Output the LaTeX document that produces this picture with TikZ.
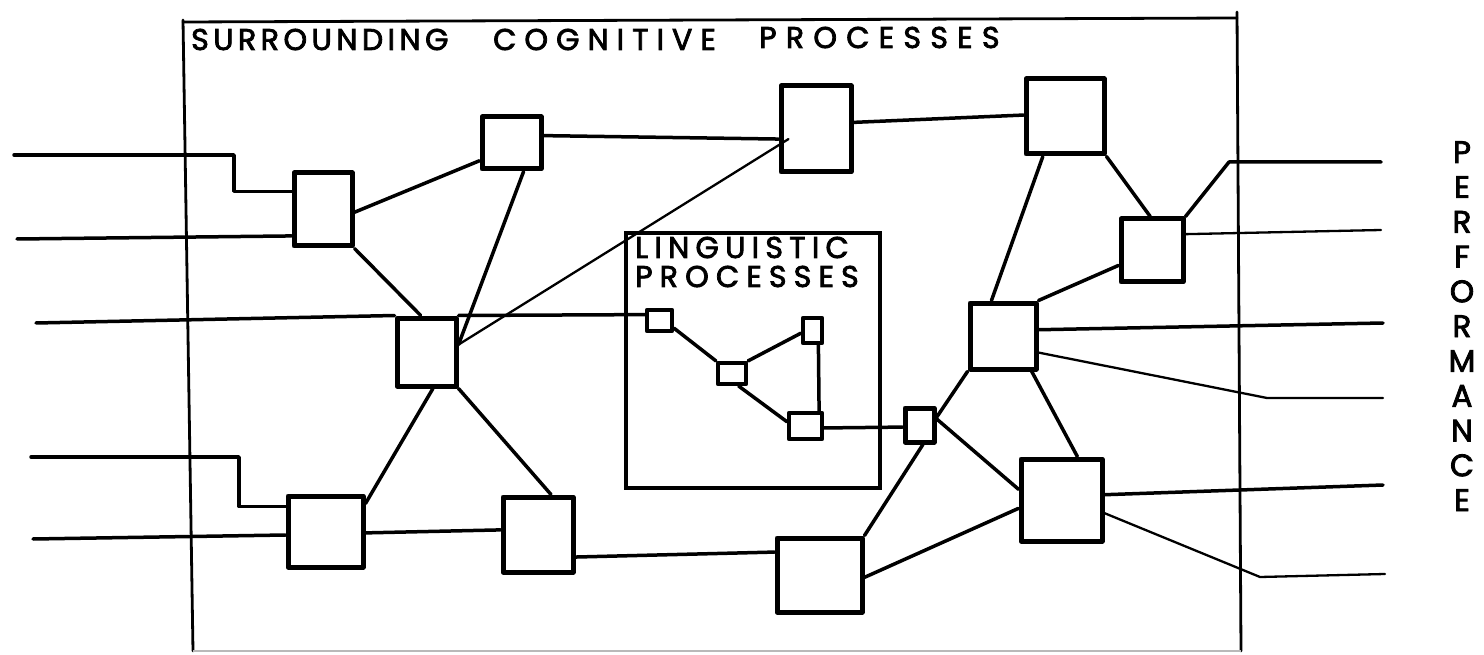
\documentclass[tikz,border=0pt]{standalone}
\usepackage{fontspec}
\newfontfamily\hand[FakeBold=2.6]{Poppins}
\usetikzlibrary{calc}

% a process box given by its centre and its size (in px)
\newcommand\procbox[6][]{\node[proc,#1, minimum width=#5pt, minimum height=#6pt] (#2) at (#3,#4) {};}
% hand lettering with a given tracking
\newcommand\spaced[2]{{\addfontfeature{LetterSpace=#1}#2}}

\begin{document}
\begin{tikzpicture}[x=1pt,y=-1pt,
  proc/.style={draw, line width=5pt, inner sep=0pt, line join=round},
  tiny/.style={line width=4.2pt},
  link/.style={line width=3.5pt, line cap=round, line join=round},
  fine link/.style={line width=2.3pt, line cap=round, line join=round},
  frame/.style={line width=2.8pt, line cap=round, line join=round},
  lettering/.style={font=\hand\fontsize{30}{32}\selectfont, inner sep=0pt},
  bigletter/.style={font=\hand\fontsize{31}{32}\selectfont, inner sep=0pt}
]
\useasboundingbox (0,0) rectangle (1484,655);

% outer frame: surrounding cognitive processes
\draw[frame] (183,20) -- (193,651);
\draw[frame] (183,22) -- (1237,18);
\draw[frame] (1237,12) -- (1241,651);
\draw[gray!55, line width=1.4pt] (193,651) -- (1241,651);
\node[lettering, anchor=base west] (t1) at (191,50) {\spaced{15}{SURROUNDING}};
\node[lettering, anchor=base west] (t2) at (493,50) {\spaced{27}{COGNITIVE}};
\node[lettering, anchor=base west] (t3) at (759,48) {\spaced{31}{PROCESSES}};

% inner frame: linguistic processes
\node[draw, line width=3.2pt, inner sep=0pt, minimum width=254pt, minimum height=255pt] (ling) at (753,360.5) {};
\node[lettering, anchor=base west] (lt1) at (635,258) {\spaced{21}{LINGUISTIC}};
\node[lettering, anchor=base west] (lt2) at (635,287) {\spaced{24}{PROCESSES}};

% vertical label on the right
\foreach \ch [count=\i] in {P,E,R,F,O,R,M,A,N,C,E}
  \node[bigletter, anchor=base] (perf\i) at (1462,{163+34.8*(\i-1)}) {\ch};

% process boxes
\procbox{A}{323}{209.5}{58}{73}
\procbox{B}{511.5}{143}{59}{52}
\procbox{C}{816}{129}{70}{86}
\procbox{D}{1065}{116.5}{78}{75}
\procbox{E}{426.5}{352}{59}{68}
\procbox{F}{325.5}{531.5}{75}{71}
\procbox{G}{538}{534.5}{70}{75}
\procbox{H}{819.5}{575}{85}{74}
\procbox{I}{1003}{336}{66}{66}
\procbox{J}{1061.5}{500}{81}{82}
\procbox{K}{919.5}{425}{29}{34}
\procbox{M}{1152}{250.5}{62}{63}
\procbox[tiny]{L1}{659.5}{320.5}{25}{21}
\procbox[tiny]{L2}{732}{373.5}{28}{21}
\procbox[tiny]{L3}{812.5}{330.5}{19}{25}
\procbox[tiny]{L4}{805.5}{426}{33}{26}

% free ends of the input and output lines
\coordinate (in1) at (14,155);
\coordinate (in2) at (17,239);
\coordinate (in3) at (36,323);
\coordinate (in4) at (31,457);
\coordinate (in5) at (33,539);
\coordinate (o1) at (1229,162);
\coordinate (o4) at (1267,398);
\coordinate (o6) at (1260,577);
\coordinate (out1) at (1381,162);
\coordinate (out2) at (1381,230);
\coordinate (out3) at (1383,323);
\coordinate (out4) at (1383,398);
\coordinate (out5) at (1383,485);
\coordinate (out6) at (1385,574);

% inputs
\draw[link] (in1) -- ++(220,0) |- (A.150);
\draw[link] (in2) -- (A.220);
\draw[link] (in3) -- (E.north west);
\draw[link] (E.north east) -- (L1.158);
\draw[link] (in4) -- ++(208,0) |- (F.148);
\draw[link] (in5) -- (F.185);

% left network
\draw[link] (A.-5) -- (B.209);
\draw[link] (A.south east) -- (E.99);
\draw[link] (B.-67) -- (E.13);
\draw[link] (B.13) -- (C.195);
\draw[fine link] (E.13) -- ([xshift=10pt]C.195);
\draw[link] (E.-80) -- (F.35);
\draw[link] (E.south east) -- (G.72);
\draw[link] (F.-2) -- (G.173);
\draw[link] (G.-31) -- (H.153);

% linguistic network
\draw[link] (L1.-28) -- (L2.north west);
\draw[link] (L2.north east) -- (L3.193);
\draw[link] (L2.-62) -- (L4.167);
\draw[link] (L3.-68) -- (L4.48);
\draw[link] (L4.-6) -- (K.187);

% right network
\draw[link] (C.10) -- (D.178);
\draw[link] (D.241) -- (I.108);
\draw[link] (D.south east) -- (M.93);
\draw[link] (M.204) -- (I.north east);
\draw[link] (I.-51) -- (J.70);
\draw[link] (K.24) -- (I.south west);
\draw[link] (K.20) -- (J.166);
\draw[link] (K.-80) -- (H.north east);
\draw[link] (H.-3) -- (J.191);

% outputs
\draw[link] (M.north east) -- (o1) -- (out1);
\draw[fine link] (M.26) -- (out2);
\draw[link] (I.10) -- (out3);
\draw[fine link] (I.-25) -- (o4) -- (out4);
\draw[link] (J.7) -- (out5);
\draw[fine link] (J.-17) -- (o6) -- (out6);
\end{tikzpicture}
\end{document}
